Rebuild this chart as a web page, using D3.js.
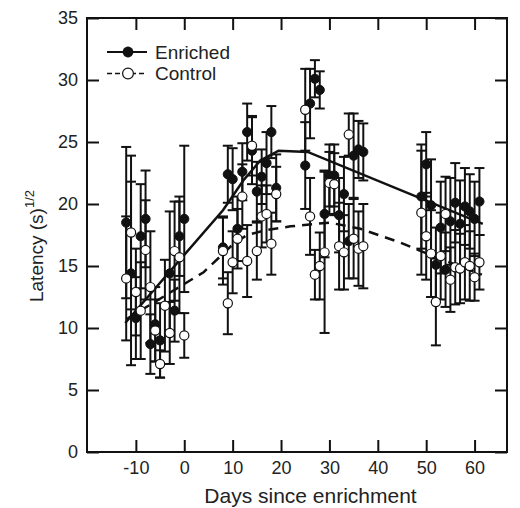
<!DOCTYPE html>
<html>
<head>
<meta charset="utf-8">
<script src="https://cdn.jsdelivr.net/npm/d3@7"></script>
<style>
  html, body { margin: 0; padding: 0; background: #fff; }
  svg { display: block; font-family: "Liberation Sans", Arial, sans-serif; }
</style>
</head>
<body>
<div id="chart"></div>
<script>
// Enriched group (filled circles): day, mean, error
const enrichedDays = [-12,-11,-10,-9,-8,-7,-6,-5,-3,-2,-1,0,
  8,9,10,11,12,13,14,15,16,17,18,19,
  25,26,27,28,29,30,31,32,33,34,35,36,37,
  49,50,51,52,53,54,55,56,57,58,59,60,61];
const enrichedMean = [18.5,14.4,10.8,17.4,18.8,8.7,10.3,9.0,14.4,11.4,17.4,18.8,
  16.5,22.4,22.0,18.0,22.6,25.8,24.3,21.0,22.2,23.3,25.8,21.3,
  23.1,28.1,30.1,29.2,19.2,22.3,22.3,19.1,20.8,17.0,23.9,24.4,24.2,
  20.6,23.2,19.9,15.1,18.1,14.7,18.6,20.1,18.4,19.8,19.4,18.8,20.2];
const enrichedErr = [6.1,7.4,3.3,4.2,3.9,2.4,3.0,3.0,5.0,2.5,3.2,5.9,
  2.5,2.3,2.5,2.6,2.3,2.3,2.7,2.4,2.2,2.5,2.1,2.7,
  3.5,2.8,1.5,1.5,3.5,2.5,2.5,3.0,3.0,3.0,3.4,2.3,2.3,
  4.2,2.6,3.7,3.0,3.7,3.0,3.5,3.2,3.5,3.1,3.0,3.0,2.7];

// Control group (open circles)
const controlDays = [-12,-11,-10,-9,-8,-7,-6,-5,-4,-3,-2,-1,0,
  8,9,10,11,12,13,14,15,16,17,18,19,
  25,26,27,28,29,30,31,32,33,34,35,36,37,
  49,50,51,52,53,54,55,56,57,58,59,60,61];
const controlMean = [14.0,17.7,12.9,11.4,16.3,13.3,9.8,7.1,11.8,9.6,16.2,15.7,9.4,
  16.2,12.0,15.3,17.2,20.6,15.4,24.7,16.2,19.0,19.2,16.8,20.8,
  27.6,19.0,14.3,15.0,16.1,21.7,21.6,16.6,16.1,25.6,17.2,16.4,16.6,
  19.3,17.4,16.0,12.1,15.8,19.2,13.9,14.9,14.8,15.3,15.0,14.1,15.3];
const controlErr = [5.0,6.2,3.5,3.9,4.0,4.5,2.5,1.1,3.7,2.5,4.0,4.5,1.8,
  2.7,2.5,2.5,2.4,2.6,2.9,2.4,2.3,2.5,2.3,2.5,2.2,
  3.3,3.1,2.0,2.7,6.5,2.5,2.5,3.5,3.0,1.7,3.2,3.0,3.4,
  5.0,3.5,3.5,3.5,3.5,3.0,2.6,3.0,2.8,3.0,2.8,1.9,2.2];

// Fitted curves
const enrichedFitDays = [-12.2, 8, 12.2, 15.7, 19.5, 25.5, 61.7];
const enrichedFitVals = [10.4, 19.5, 21.9, 23.5, 24.3, 24.2, 18.4];
const controlFitDays = [-12, 4, 10.2, 13, 17, 22, 30, 36.4, 44.6, 50.8, 61.5];
const controlFitVals = [10.7, 14.5, 16.8, 17.5, 17.9, 18.2, 18.5, 18.0, 16.9, 15.9, 14.3];

const xTicks = [-10, 0, 10, 20, 30, 40, 50, 60];
const yTicks = [0, 5, 10, 15, 20, 25, 30, 35];

const W = 520, H = 508;
const L = 87, R = 507, T = 18, B = 452;

const svg = d3.select("#chart").append("svg").attr("width", W).attr("height", H);

const x = d3.scaleLinear().domain([-20.1, 66.7]).range([L, R]);
const y = d3.scaleLinear().domain([0, 35]).range([B, T]);

// Frame and inward ticks on all sides
const TK = 12;
svg.append("g").attr("transform", `translate(0,${B})`)
  .call(d3.axisBottom(x).tickValues(xTicks).tickSize(-TK).tickPadding(9).tickFormat(d => String(d)))
  .call(g => g.select(".domain").remove());
svg.append("g").attr("transform", `translate(0,${T})`)
  .call(d3.axisTop(x).tickValues(xTicks).tickSize(-TK).tickFormat(""))
  .call(g => g.select(".domain").remove());
svg.append("g").attr("transform", `translate(${L},0)`)
  .call(d3.axisLeft(y).tickValues(yTicks).tickSize(-TK).tickPadding(9))
  .call(g => g.select(".domain").remove());
svg.append("g").attr("transform", `translate(${R},0)`)
  .call(d3.axisRight(y).tickValues(yTicks).tickSize(-TK).tickFormat(""))
  .call(g => g.select(".domain").remove());

svg.selectAll(".tick line").attr("stroke", "#111").attr("stroke-width", 2);
svg.selectAll(".tick text").attr("font-size", 18).attr("fill", "#222")
  .attr("font-family", "'Liberation Sans', Arial, sans-serif");

svg.append("rect").attr("x", L).attr("y", T).attr("width", R - L).attr("height", B - T)
  .attr("fill", "none").attr("stroke", "#111").attr("stroke-width", 2);

const enriched = enrichedDays.map((d, i) => ({ d, m: enrichedMean[i], e: enrichedErr[i] }));
const control = controlDays.map((d, i) => ({ d, m: controlMean[i], e: controlErr[i] }));

function errorBars(data) {
  const g = svg.append("g").attr("stroke", "#111").attr("stroke-width", 2);
  data.forEach(p => {
    const cx = x(p.d);
    g.append("line").attr("x1", cx).attr("x2", cx).attr("y1", y(p.m - p.e)).attr("y2", y(p.m + p.e));
    [p.m - p.e, p.m + p.e].forEach(v => {
      g.append("line").attr("x1", cx - 5).attr("x2", cx + 5).attr("y1", y(v)).attr("y2", y(v));
    });
  });
}
errorBars(enriched);
errorBars(control);

// Fit lines
const line = d3.line().x(d => x(d[0])).y(d => y(d[1]));
svg.append("path").datum(enrichedFitDays.map((d, i) => [d, enrichedFitVals[i]]))
  .attr("fill", "none").attr("stroke", "#111").attr("stroke-width", 2.5).attr("d", line);
svg.append("path").datum(controlFitDays.map((d, i) => [d, controlFitVals[i]]))
  .attr("fill", "none").attr("stroke", "#111").attr("stroke-width", 2.5)
  .attr("stroke-dasharray", "10,7").attr("d", line);

// Markers
svg.append("g").selectAll("circle").data(enriched).join("circle")
  .attr("cx", p => x(p.d)).attr("cy", p => y(p.m)).attr("r", 4.6)
  .attr("fill", "#111").attr("stroke", "#111").attr("stroke-width", 1);
svg.append("g").selectAll("circle").data(control).join("circle")
  .attr("cx", p => x(p.d)).attr("cy", p => y(p.m)).attr("r", 4.6)
  .attr("fill", "#fff").attr("stroke", "#111").attr("stroke-width", 1.2);

// Legend
const lg = svg.append("g");
lg.append("line").attr("x1", 107).attr("x2", 147).attr("y1", 52).attr("y2", 52)
  .attr("stroke", "#111").attr("stroke-width", 2);
lg.append("circle").attr("cx", 128).attr("cy", 52).attr("r", 5.4).attr("fill", "#111");
lg.append("text").attr("x", 155).attr("y", 58.5).attr("font-size", 19).attr("fill", "#222").text("Enriched");
lg.append("line").attr("x1", 107).attr("x2", 147).attr("y1", 73.5).attr("y2", 73.5)
  .attr("stroke", "#111").attr("stroke-width", 1.5).attr("stroke-dasharray", "5,3");
lg.append("circle").attr("cx", 128).attr("cy", 73.5).attr("r", 5.4)
  .attr("fill", "#fff").attr("stroke", "#111").attr("stroke-width", 1.2);
lg.append("text").attr("x", 155).attr("y", 80).attr("font-size", 19).attr("fill", "#222").text("Control");

// Axis titles
svg.append("text").attr("x", 310.5).attr("y", 503).attr("text-anchor", "middle")
  .attr("font-size", 21).attr("fill", "#222").text("Days since enrichment");

const yl = svg.append("text").attr("transform", "translate(43,246) rotate(-90)")
  .attr("text-anchor", "middle").attr("font-size", 19).attr("fill", "#222");
yl.append("tspan").text("Latency (s)");
yl.append("tspan").attr("font-size", 13).attr("dy", -9).text("1/2");
</script>
</body>
</html>
